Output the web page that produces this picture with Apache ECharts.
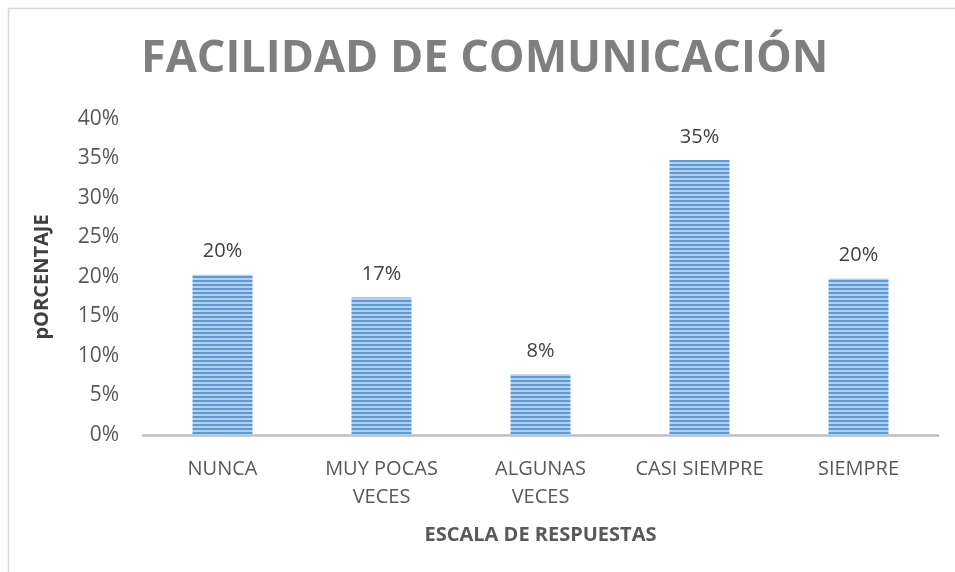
<!DOCTYPE html>
<html>
<head>
<meta charset="utf-8">
<script src="https://cdn.jsdelivr.net/npm/echarts@6/dist/echarts.min.js"></script>
<style>
  html, body { margin: 0; padding: 0; background: #fff; }
  #chart { width: 955px; height: 572px; }
</style>
</head>
<body>
<div id="chart"></div>
<script>
  // datos
  var categorias = ['NUNCA', 'MUY POCAS\nVECES', 'ALGUNAS\nVECES', 'CASI SIEMPRE', 'SIEMPRE'];
  var porcentajes = [20.3, 17.4, 7.7, 34.8, 19.8];
  var etiquetas = ['20%', '17%', '8%', '35%', '20%'];
  var ticksY = [0, 5, 10, 15, 20, 25, 30, 35, 40];

  // relleno rayado de las barras
  function rayado() {
    var c = document.createElement('canvas');
    c.width = 8;
    c.height = 4;
    var ctx = c.getContext('2d');
    ctx.fillStyle = '#b4d0ee';
    ctx.fillRect(0, 0, 8, 4);
    ctx.fillStyle = '#5b9bd5';
    ctx.fillRect(0, 0, 8, 2);
    return c;
  }

  var chart = echarts.init(document.getElementById('chart'));
  var fuente = '"Open Sans", sans-serif';

  chart.setOption({
    animation: false,
    graphic: [{
      type: 'polyline',
      shape: { points: [[8.5, 572], [8.5, 8.5], [955, 8.5]] },
      style: { stroke: '#d9d9d9', lineWidth: 1.5, fill: null }
    }],
    title: {
      text: 'FACILIDAD DE COMUNICACIÓN',
      left: 136,
      top: 32,
      textStyle: { fontFamily: fuente, fontSize: 45, fontWeight: 'bold', color: '#7f7f7f' }
    },
    grid: { left: 143, right: 17, top: 119, bottom: 137 },
    xAxis: {
      type: 'category',
      data: categorias,
      name: 'ESCALA DE RESPUESTAS',
      nameLocation: 'middle',
      nameGap: 90,
      nameTextStyle: { fontFamily: fuente, fontSize: 20, fontWeight: 'bold', color: '#595959' },
      axisLine: { lineStyle: { color: '#bfbfbf', width: 2.5 } },
      axisTick: { show: false },
      axisLabel: { fontFamily: fuente, fontSize: 20, color: '#595959', margin: 20, lineHeight: 28, interval: 0 }
    },
    yAxis: {
      type: 'value',
      min: ticksY[0],
      max: ticksY[ticksY.length - 1],
      interval: 5,
      name: 'pORCENTAJE',
      nameLocation: 'middle',
      nameGap: 91,
      nameRotate: 90,
      nameTextStyle: { fontFamily: fuente, fontSize: 20, fontWeight: 'bold', color: '#404040' },
      splitLine: { show: false },
      axisLine: { show: false },
      axisLabel: { fontFamily: fuente, fontSize: 21, color: '#595959', margin: 24, formatter: '{value}%' }
    },
    series: [{
      type: 'bar',
      data: porcentajes,
      barWidth: 60,
      itemStyle: { color: { image: rayado(), repeat: 'repeat' } },
      label: {
        show: true,
        position: 'top',
        distance: 13,
        fontFamily: fuente,
        fontSize: 20,
        color: '#404040',
        formatter: function (p) { return etiquetas[p.dataIndex]; }
      }
    }]
  });
</script>
</body>
</html>
